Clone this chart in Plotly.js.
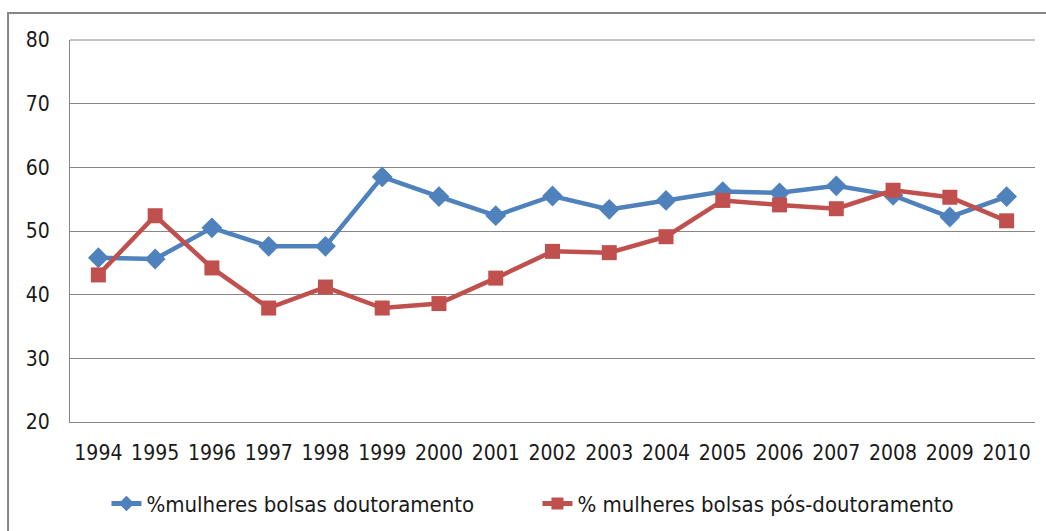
<!DOCTYPE html>
<html>
<head>
<meta charset="utf-8">
<script src="https://cdn.plot.ly/plotly-3.0.1.min.js"></script>
<style>html,body{margin:0;padding:0;background:#fff;}#chart{width:1046px;height:531px;}</style>
</head>
<body>
<div id="chart"></div>
<script>
const years = ['1994','1995','1996','1997','1998','1999','2000','2001','2002','2003','2004','2005','2006','2007','2008','2009','2010'];
const doutoramento = [45.8, 45.6, 50.5, 47.6, 47.6, 58.5, 55.4, 52.4, 55.5, 53.4, 54.8, 56.2, 56.0, 57.1, 55.6, 52.2, 55.4];
const posDoutoramento = [43.1, 52.4, 44.2, 37.9, 41.2, 37.9, 38.6, 42.6, 46.8, 46.6, 49.1, 54.8, 54.1, 53.5, 56.4, 55.3, 51.6];
const seriesNames = ['%mulheres bolsas doutoramento', '% mulheres bolsas pós-doutoramento'];

const font = '"DejaVu Sans Condensed", "Liberation Sans", sans-serif';
const textColor = '#1a1a1a';

const traces = [
  {x: years, y: doutoramento, name: seriesNames[0], type: 'scatter', mode: 'lines+markers', legend: 'legend',
   line: {color: '#4F81BD', width: 4.5}, marker: {symbol: 'diamond', size: 16, color: '#4F81BD'}},
  {x: years, y: posDoutoramento, name: seriesNames[1], type: 'scatter', mode: 'lines+markers', legend: 'legend2',
   line: {color: '#C0504D', width: 4.5}, marker: {symbol: 'square', size: 15, color: '#C0504D'}}
];

const legendCommon = {orientation: 'h', xanchor: 'left', yref: 'container', y: 0.091, yanchor: 'top',
                      itemsizing: 'constant',
                      font: {family: font, size: 22, color: textColor}, bgcolor: 'rgba(0,0,0,0)'};

const layout = {
  width: 1046, height: 531,
  margin: {l: 70, r: 11, t: 40, b: 109, autoexpand: false},
  paper_bgcolor: '#fff', plot_bgcolor: '#fff',
  font: {family: font, size: 21, color: textColor},
  showlegend: true,
  legend: Object.assign({x: 0.0378}, legendCommon),
  legend2: Object.assign({x: 0.4844}, legendCommon),
  xaxis: {type: 'category', range: [-0.5, 16.5], showgrid: false, zeroline: false, showline: true, automargin: false,
          linecolor: '#868686', linewidth: 1, ticks: '', tickfont: {family: font, size: 21, color: textColor},
          ticklabelstandoff: 12, fixedrange: true},
  yaxis: {range: [20, 80], dtick: 10, showgrid: true, gridcolor: '#868686', gridwidth: 1, zeroline: false, automargin: false,
          showline: true, linecolor: '#868686', linewidth: 1, ticks: '', tickfont: {family: font, size: 21, color: textColor},
          ticklabelstandoff: 15, fixedrange: true},
  shapes: [
    {type: 'line', xref: 'paper', yref: 'paper', x0: 0, x1: 1, y0: 1, y1: 1, line: {color: '#868686', width: 1}},
    {type: 'rect', xref: 'paper', yref: 'paper', x0: -0.0642, x1: 1.1, y0: -0.4, y1: 1.0707,
     line: {color: '#868686', width: 2}, fillcolor: 'rgba(0,0,0,0)'}
  ]
};

Plotly.newPlot('chart', traces, layout, {displayModeBar: false, staticPlot: true});
</script>
</body>
</html>
